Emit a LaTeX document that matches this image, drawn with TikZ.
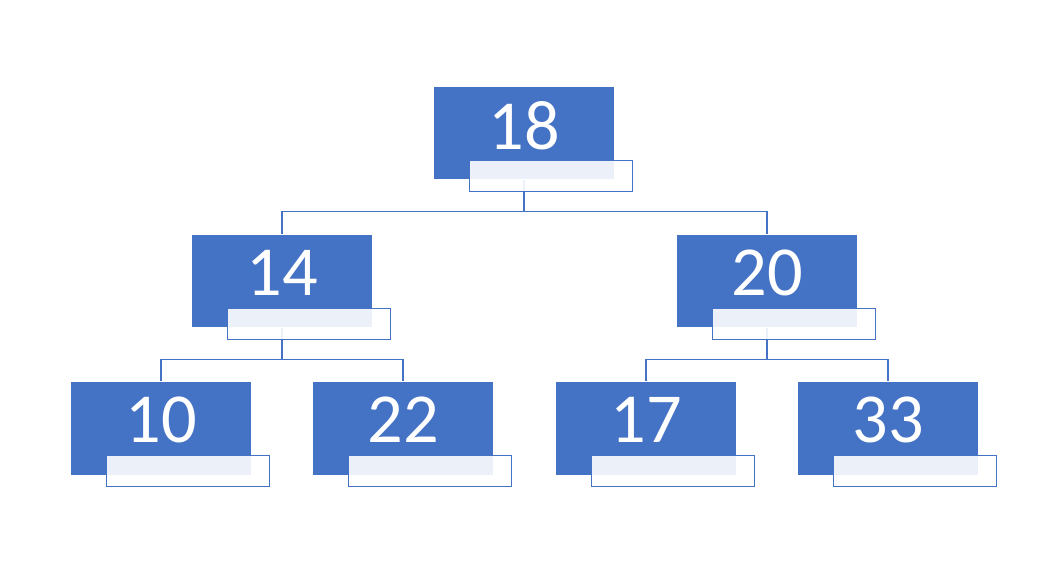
\documentclass[tikz,border=0pt]{standalone}
\usepackage{fontspec}
\setmainfont{Carlito}
\usepackage{tikz}
\usetikzlibrary{positioning,calc}
\definecolor{ofblue}{HTML}{4472C4}

\begin{document}
\begin{tikzpicture}[x=0.02cm, y=-0.02cm,
    blk/.style={rectangle, fill=ofblue, text=white, minimum width=3.6cm, minimum height=1.86cm, inner sep=0pt, text depth=0.32cm, font=\fontsize{40}{48}\selectfont},
    tag/.style={rectangle, draw=ofblue, line width=0.6pt, fill=white, fill opacity=0.9, minimum width=3.26cm, minimum height=0.62cm, inner sep=0pt, anchor=north west},
    link/.style={draw=ofblue, line width=0.6pt}]
    \useasboundingbox (0,0) rectangle (1062,562);

    % keys
    \node [blk] (n18) at (524,133) {18};
    \node [blk] (n14) at (282,281) {14};
    \node [blk] (n20) at (767,281) {20};
    \node [blk] (n10) at (161,428) {10};
    \node [blk] (n22) at (403,428) {22};
    \node [blk] (n17) at (646,428) {17};
    \node [blk] (n33) at (888,428) {33};

    % edges
    \foreach \p/\c in {n18/n14, n18/n20, n14/n10, n14/n22, n20/n17, n20/n33} {
        \draw [link] (\p.south) -- ++(0,32) -| (\c.north);
    }

    % empty tags
    \foreach \n in {n18,n14,n20,n10,n22,n17,n33} {
        \node [tag] (t\n) at ([shift={(35,-20)}]\n.south west) {};
    }
\end{tikzpicture}
\end{document}
